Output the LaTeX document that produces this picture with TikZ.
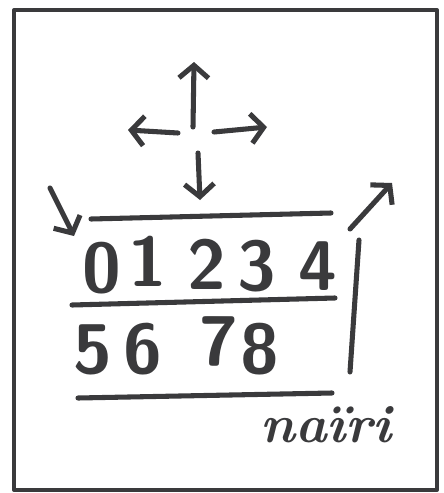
\documentclass[tikz,border=0pt]{standalone}
\usepackage{tikz}
\usetikzlibrary{arrows.meta}

\definecolor{ink}{HTML}{3A3A3C}

\begin{document}
\begin{tikzpicture}[x=0.025cm, y=-0.025cm, line cap=round, line join=round,
        pen/.style={draw=ink, line width=3.6pt},
        arr/.style={pen, -{Straight Barb[length=9pt, width=21pt]}},
        digit/.style={anchor=base, inner sep=0pt, text=ink, font=\sffamily\bfseries\fontsize{50}{50}\selectfont}]
        \useasboundingbox (0,0) rectangle (443,493);
        \draw[draw=ink, line width=2.8pt] (14,10) rectangle (437,490);

        % cross of arrows
        \draw[arr] (193,127) -- (194,62);
        \draw[arr] (178,133) -- (128,130);
        \draw[arr] (214,132) -- (267,127);
        \draw[arr] (198,153) -- (200,200);

        % side arrows
        \draw[arr] (50,188) -- (74,236);
        \draw[arr] (350,229) -- (392,183);

        % rules
        \draw[pen] (91,219) -- (331,213);
        \draw[pen] (72,305) -- (335,298);
        \draw[pen] (78,398) -- (332,393);
        \draw[pen] (359,240) -- (350,372);

        % digits
        \foreach \d/\x/\y in {0/102/292, 1/148/286, 2/207/289, 3/257/290, 4/318/290,
                              5/93/373, 6/143/373, 7/219/365, 8/260/373}
            \node (d\d) [digit] at (\x,\y) {\d};

        \node (sign) [anchor=base, inner sep=0pt, text=ink, font=\itshape\bfseries\fontsize{38}{38}\selectfont] at (326,442) {naïri};
\end{tikzpicture}
\end{document}
